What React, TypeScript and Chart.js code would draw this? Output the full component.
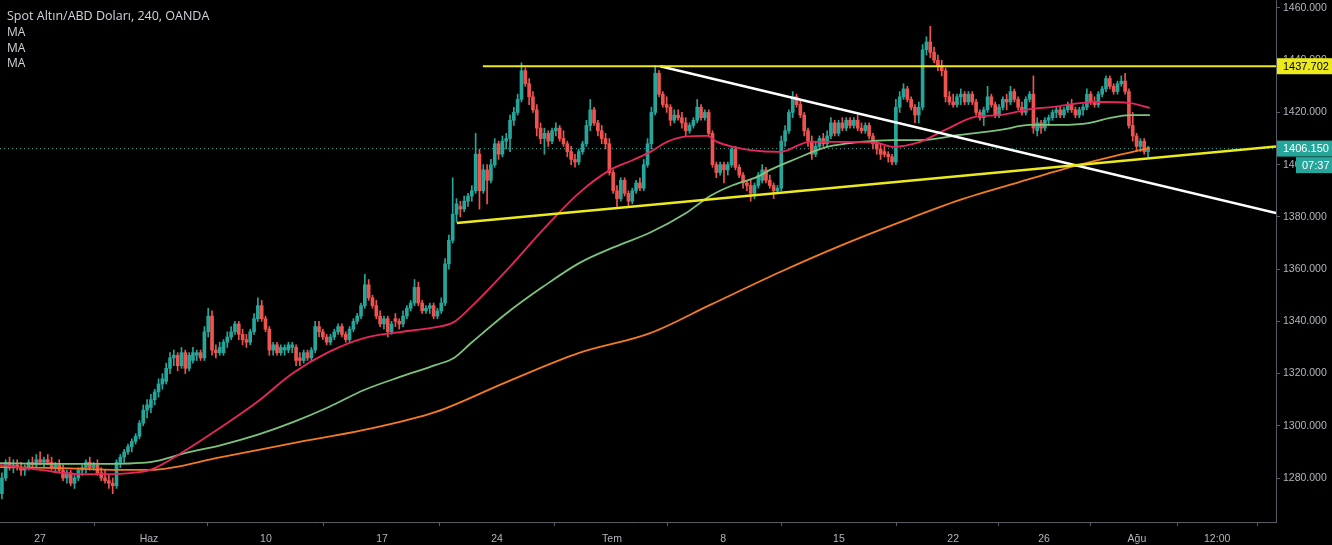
import React, { useEffect, useRef } from "react";
import { Chart, registerables } from "chart.js";

Chart.register(...registerables);

// ---- OHLC candles (4H bars, index 0 = first visible bar) ----
const OPEN = [
  1274,1280,1286,1284,1285,1284,1283,1284,1286,1285,
  1287,1286,1287,1286,1284,1285,1283,1280,1282,1278,
  1280,1283,1284,1286,1284,1285,1282,1280,1279,1278,
  1277,1286,1288,1290,1292,1294,1296,1301,1306,1307,
  1310,1313,1316,1317,1322,1326,1327,1323,1328,1322,
  1325,1327,1328,1326,1336,1342,1329,1328,1328,1332,
  1334,1336,1339,1335,1333,1332,1336,1341,1346,1341,
  1337,1329,1331,1328,1329,1329,1330,1330,1326,1325,
  1328,1326,1329,1338,1336,1334,1332,1334,1336,1338,
  1335,1333,1337,1340,1342,1346,1354,1349,1346,1342,
  1339,1341,1336,1341,1340,1339,1342,1345,1347,1353,
  1347,1344,1345,1346,1342,1344,1347,1362,1371,1381,
  1384,1383,1386,1388,1390,1404,1390,1398,1394,1400,
  1408,1404,1409,1410,1417,1420,1425,1436,1431,1426,
  1421,1414,1410,1412,1409,1413,1414,1410,1408,1405,
  1402,1401,1405,1408,1415,1421,1416,1413,1410,1408,
  1397,1390,1387,1394,1389,1386,1390,1393,1391,1400,
  1408,1420,1435,1427,1423,1422,1417,1419,1418,1416,
  1413,1415,1417,1422,1418,1420,1412,1400,1397,1400,
  1398,1400,1406,1399,1396,1393,1392,1389,1392,1394,
  1398,1394,1392,1390,1391,1409,1413,1420,1426,1423,
  1419,1413,1409,1404,1407,1410,1408,1411,1416,1412,
  1416,1414,1417,1415,1417,1414,1413,1415,1411,1408,
  1406,1405,1404,1403,1401,1422,1426,1429,1425,1422,
  1419,1422,1444,1447,1443,1440,1438,1436,1426,1424,
  1423,1426,1427,1424,1427,1424,1420,1418,1421,1426,
  1423,1419,1422,1425,1424,1428,1425,1422,1420,1425,
  1427,1413,1416,1414,1417,1418,1420,1421,1419,1421,
  1423,1421,1419,1421,1422,1427,1424,1423,1427,1429,
  1433,1430,1428,1431,1432,1428,1415,1411,1407,1409,
  1405,
];
const HIGH = [
  1282,1287,1288,1287,1287,1286,1285,1287,1288,1289,
  1290,1288,1289,1288,1286,1287,1285,1283,1283,1281,
  1284,1285,1287,1288,1286,1287,1284,1283,1281,1280,
  1287,1289,1291,1293,1295,1297,1302,1308,1310,1312,
  1314,1318,1320,1324,1328,1329,1328,1330,1329,1328,
  1330,1329,1329,1338,1345,1344,1331,1332,1333,1336,
  1338,1340,1340,1337,1335,1337,1343,1349,1348,1342,
  1338,1332,1332,1331,1331,1332,1332,1331,1328,1329,
  1329,1330,1340,1340,1337,1335,1335,1337,1339,1339,
  1336,1338,1341,1343,1347,1358,1356,1350,1348,1344,
  1342,1342,1340,1343,1341,1344,1346,1348,1356,1355,
  1348,1346,1347,1347,1345,1349,1364,1373,1395,1387,
  1386,1388,1389,1392,1412,1406,1400,1400,1402,1410,
  1409,1411,1412,1419,1422,1427,1439,1437,1433,1428,
  1423,1416,1414,1413,1414,1416,1415,1413,1409,1407,
  1404,1406,1409,1417,1425,1422,1417,1415,1412,1410,
  1398,1392,1395,1395,1390,1391,1394,1395,1402,1410,
  1422,1438,1436,1428,1426,1423,1421,1421,1420,1418,
  1416,1418,1425,1423,1421,1421,1413,1401,1401,1401,
  1401,1407,1407,1400,1397,1394,1394,1393,1397,1400,
  1399,1396,1393,1392,1411,1415,1421,1428,1427,1425,
  1420,1414,1411,1409,1411,1412,1413,1418,1417,1417,
  1418,1418,1418,1418,1419,1416,1416,1416,1412,1409,
  1408,1407,1405,1404,1425,1428,1431,1430,1426,1423,
  1424,1446,1449,1453,1445,1442,1440,1437,1428,1427,
  1427,1429,1428,1428,1428,1425,1421,1422,1430,1427,
  1424,1423,1426,1427,1430,1429,1426,1424,1426,1428,
  1434,1418,1417,1418,1419,1421,1422,1422,1422,1424,
  1425,1422,1422,1423,1429,1428,1426,1428,1430,1434,
  1434,1431,1432,1434,1435,1429,1420,1412,1410,1410,
  1407,
];
const LOW = [
  1272,1279,1283,1282,1283,1281,1281,1283,1284,1284,
  1285,1284,1285,1283,1282,1282,1279,1278,1277,1276,
  1279,1281,1282,1283,1283,1281,1279,1278,1276,1274,
  1276,1284,1286,1289,1290,1293,1295,1300,1303,1305,
  1308,1311,1314,1316,1320,1323,1321,1322,1320,1321,
  1324,1325,1325,1325,1334,1327,1326,1327,1327,1330,
  1333,1335,1333,1331,1330,1331,1335,1340,1340,1336,
  1327,1327,1327,1327,1327,1328,1328,1323,1323,1324,
  1325,1325,1328,1334,1333,1331,1331,1333,1335,1334,
  1332,1332,1336,1339,1341,1345,1348,1345,1341,1338,
  1337,1334,1335,1338,1337,1338,1341,1344,1346,1346,
  1343,1343,1343,1341,1341,1343,1346,1360,1370,1378,
  1380,1382,1384,1386,1389,1383,1389,1385,1393,1399,
  1402,1403,1406,1405,1415,1419,1424,1430,1423,1420,
  1411,1408,1404,1407,1408,1411,1409,1407,1403,1400,
  1399,1400,1404,1407,1413,1415,1411,1408,1406,1396,
  1389,1384,1386,1388,1384,1385,1389,1390,1390,1399,
  1406,1419,1426,1422,1420,1415,1416,1417,1414,1411,
  1412,1414,1416,1417,1417,1411,1399,1395,1396,1393,
  1396,1399,1398,1395,1391,1390,1386,1387,1391,1393,
  1393,1391,1387,1389,1390,1407,1412,1418,1422,1418,
  1411,1407,1402,1403,1406,1407,1407,1410,1411,1411,
  1413,1413,1414,1414,1413,1412,1412,1410,1406,1404,
  1402,1403,1401,1400,1400,1420,1425,1424,1421,1416,
  1416,1421,1442,1441,1439,1436,1434,1424,1423,1422,
  1422,1423,1423,1423,1423,1419,1417,1415,1420,1422,
  1418,1418,1421,1421,1423,1424,1421,1419,1419,1424,
  1412,1411,1412,1413,1415,1417,1418,1418,1418,1420,
  1420,1418,1418,1419,1421,1423,1422,1422,1426,1428,
  1429,1427,1427,1430,1427,1414,1409,1405,1405,1404,
  1403,
];
const CLOSE = [
  1280,1286,1284,1285,1284,1283,1284,1286,1285,1287,
  1286,1287,1286,1284,1285,1283,1280,1282,1278,1280,
  1283,1284,1286,1284,1285,1282,1280,1279,1278,1277,
  1286,1288,1290,1292,1294,1296,1301,1306,1308,1310,
  1313,1316,1318,1322,1326,1327,1323,1328,1322,1327,
  1328,1328,1326,1336,1342,1329,1328,1330,1332,1334,
  1336,1339,1335,1333,1332,1336,1341,1346,1341,1337,
  1329,1331,1328,1330,1330,1331,1331,1325,1325,1328,
  1326,1329,1338,1336,1334,1332,1334,1336,1338,1335,
  1333,1337,1340,1342,1346,1354,1349,1346,1342,1339,
  1341,1336,1339,1340,1339,1342,1345,1347,1353,1347,
  1344,1345,1346,1342,1344,1347,1362,1371,1381,1385,
  1383,1386,1388,1390,1404,1390,1398,1394,1400,1408,
  1404,1409,1410,1417,1420,1425,1436,1431,1426,1421,
  1414,1410,1412,1409,1413,1414,1410,1408,1405,1402,
  1401,1405,1408,1415,1421,1416,1413,1410,1408,1397,
  1390,1387,1394,1389,1386,1390,1393,1391,1400,1408,
  1420,1435,1427,1423,1422,1417,1419,1418,1416,1413,
  1415,1417,1422,1418,1420,1412,1400,1397,1400,1398,
  1400,1406,1399,1396,1393,1392,1389,1392,1396,1398,
  1394,1392,1390,1391,1409,1413,1420,1426,1423,1419,
  1413,1409,1404,1407,1410,1408,1411,1416,1412,1416,
  1414,1417,1415,1417,1414,1413,1415,1411,1408,1406,
  1404,1404,1403,1401,1422,1426,1429,1425,1422,1419,
  1422,1444,1447,1443,1440,1438,1436,1426,1424,1423,
  1426,1427,1424,1427,1424,1420,1418,1421,1426,1423,
  1419,1422,1425,1424,1428,1425,1422,1420,1425,1427,
  1414,1416,1414,1417,1418,1420,1421,1419,1421,1423,
  1421,1419,1421,1422,1427,1424,1423,1427,1429,1433,
  1430,1428,1431,1432,1428,1415,1411,1407,1409,1405,
  1406.15,
];

// ---- moving averages as [bar index, price] ----
const MA_RED = [
  [-0.5,1285.0],[10,1283.1],[20.4,1281.5],[28.3,1281.5],[33.5,1281.9],[38.8,1283.1],
  [48.2,1290.7],[57.4,1299.5],[66.8,1309.1],[76.2,1320.2],[85.6,1328.3],[94.8,1333.6],
  [104.2,1335.9],[113.6,1337.8],[118.3,1339.7],[122.8,1345.5],[132.2,1359.7],[141.6,1375.0],
  [151.1,1389.2],[159.2,1398.0],[165.2,1401.8],[169.7,1404.9],[174.1,1408.7],[178.3,1410.6],
  [184.6,1411.0],[187.2,1408.7],[191.4,1406.8],[195.8,1405.6],[203.7,1404.9],[211.5,1408.7],
  [220.2,1408.7],[229.1,1408.3],[233.3,1406.8],[240.3,1408.7],[246.9,1413.3],[254.7,1418.3],
  [261.3,1419.0],[269.1,1421.3],[275.2,1422.1],[282.2,1423.6],[287.5,1424.0],[295.3,1423.6],
  [300.5,1421.7],
];
const MA_GREEN = [
  [-0.5,1285.7],[12.6,1285.4],[25.7,1285.4],[38.8,1286.1],[48.2,1289.6],[57.4,1292.6],
  [66.8,1296.5],[76.2,1301.4],[85.6,1307.2],[94.8,1313.7],[104.2,1318.7],[113.6,1323.3],
  [118.3,1326.0],[122.8,1331.7],[132.2,1343.2],[141.6,1353.2],[151.1,1362.3],[160.2,1368.4],
  [169.7,1374.0],[179.1,1381.5],[185.4,1388.0],[191.4,1392.2],[197.7,1395.3],[201.1,1398.0],
  [207.1,1401.8],[216.0,1406.8],[224.6,1408.7],[233.3,1409.4],[240.3,1409.4],[250.8,1411.4],
  [261.3,1413.3],[269.1,1415.2],[277.0,1415.2],[284.8,1416.0],[290.1,1417.9],[295.3,1419.0],
  [300.5,1419.0],
];
const MA_ORANGE = [
  [-0.5,1284.2],[15.2,1283.8],[30.9,1283.1],[38.8,1283.1],[57.4,1288.0],[76.2,1293.4],
  [94.8,1298.4],[113.6,1305.3],[132.2,1316.8],[151.1,1327.9],[169.7,1335.5],[185.4,1346.3],
  [203.7,1358.9],[219.4,1368.9],[235.1,1378.0],[250.8,1386.5],[266.5,1393.4],[280.9,1399.5],
  [290.1,1402.9],[300.5,1406.4],
];

// ---- drawn trend lines [bar index, price] ----
const RESISTANCE_LINE = [[125.9,1437.702],[333.5,1437.702]];
const SUPPORT_LINE = [[119.1,1377.7],[333.5,1407.0]];
const DOWN_LINE = [[172.3,1437.7],[333.5,1381.5]];

// ---- axes ----
const X_TICK_POS = [10, 38.5, 69.1, 99.5, 129.6, 159.7, 188.8, 219.1, 249.0, 272.8, 297.1, 318.1];
const X_TICK_LABELS = ["27", "Haz", "10", "17", "24", "Tem", "8", "15", "22", "26", "Ağu", "12:00"];
const Y_TICKS = [1280, 1300, 1320, 1340, 1360, 1380, 1400, 1420, 1440, 1460];
const X_MIN = -0.5;
const X_MAX = 333.5;
const Y_MIN = 1263.15;
const Y_MAX = 1463.06;

const RESISTANCE_LABEL = 1437.702;
const LAST_PRICE = 1406.15;
const COUNTDOWN = "07:37";
const TITLE = "Spot Altın/ABD Doları, 240, OANDA";
const MA_LABELS = ["MA", "MA", "MA"];

const UP = "#26a69a";
const DOWN = "#ef5350";
const YELLOW = "#ecea1c";
const AXIS_FONT = "Liberation Sans";

const toXY = (pts: number[][]) => pts.map(([x, y]) => ({ x, y }));

export default function App() {
  const ref = useRef<HTMLCanvasElement | null>(null);

  useEffect(() => {
    if (!ref.current) return;
    const n = Math.min(OPEN.length, HIGH.length, LOW.length, CLOSE.length);
    const idx = Array.from({ length: n }, (_, i) => i);
    const colors = idx.map((i) => (CLOSE[i] >= OPEN[i] ? UP : DOWN));

    const overlay = {
      id: "overlay",
      afterDraw(chart: any) {
        const ctx = chart.ctx;
        const y = chart.scales.y;
        const area = chart.chartArea;
        const W = chart.width;
        ctx.save();
        // title + MA legend
        ctx.fillStyle = "#d1d4dc";
        ctx.textBaseline = "alphabetic";
        ctx.textAlign = "left";
        ctx.font = '12.5px "Open Sans"';
        ctx.fillText(TITLE, 7, 20);
        ctx.font = '12px "Open Sans"';
        MA_LABELS.forEach((t, k) => ctx.fillText(t, 7, 36 + k * 15.7));

        const box = (bg: string, fg: string, text: string, x0: number, yc: number) => {
          ctx.fillStyle = bg;
          ctx.fillRect(x0, yc - 8, W - x0, 16);
          ctx.fillStyle = fg;
          ctx.font = `11px ${AXIS_FONT}`;
          ctx.textBaseline = "middle";
          ctx.fillText(text, x0 + 6, yc + 0.5);
        };
        const yr = y.getPixelForValue(RESISTANCE_LABEL);
        box(YELLOW, "#000", RESISTANCE_LABEL.toFixed(3), area.right + 1, yr);
        const yl = y.getPixelForValue(LAST_PRICE);
        box(UP, "#fff", LAST_PRICE.toFixed(3), area.right + 1, yl);
        box(UP, "#fff", COUNTDOWN, area.right + 20, yl + 16.5);
        ctx.restore();
      },
    };

    const chart = new Chart(ref.current, {
      type: "bar",
      data: {
        datasets: [
          { type: "line", data: toXY(RESISTANCE_LINE), borderColor: YELLOW, borderWidth: 2, pointRadius: 0, order: 0 },
          { type: "line", data: toXY(SUPPORT_LINE), borderColor: YELLOW, borderWidth: 2.5, pointRadius: 0, order: 0 },
          { type: "line", data: toXY(DOWN_LINE), borderColor: "#ffffff", borderWidth: 2.5, pointRadius: 0, order: 0 },
          {
            type: "line", data: toXY(MA_RED), borderColor: "#e8265e", borderWidth: 1.8,
            pointRadius: 0, cubicInterpolationMode: "monotone", order: 1,
          },
          {
            type: "line", data: toXY(MA_GREEN), borderColor: "#7cc47c", borderWidth: 1.8,
            pointRadius: 0, cubicInterpolationMode: "monotone", order: 2,
          },
          {
            type: "line", data: toXY(MA_ORANGE), borderColor: "#f47b20", borderWidth: 1.8,
            pointRadius: 0, cubicInterpolationMode: "monotone", order: 3,
          },
          {
            type: "line",
            data: [{ x: X_MIN, y: LAST_PRICE }, { x: X_MAX, y: LAST_PRICE }],
            borderColor: UP, borderWidth: 1, borderDash: [1, 3], pointRadius: 0, order: 9,
          },
          {
            type: "bar",
            data: idx.map((i) => ({ x: i, y: [LOW[i], HIGH[i]] })) as any,
            backgroundColor: colors, barThickness: 1, grouped: false, borderWidth: 0, order: 6,
          },
          {
            type: "bar",
            data: idx.map((i) => ({ x: i, y: [OPEN[i], CLOSE[i]] })) as any,
            backgroundColor: colors, barThickness: 3, minBarLength: 1, grouped: false, borderWidth: 0, order: 5,
          },
        ] as any,
      },
      options: {
        responsive: false,
        maintainAspectRatio: false,
        devicePixelRatio: 1,
        animation: false,
        events: [],
        layout: { padding: 0 },
        plugins: { legend: { display: false }, tooltip: { enabled: false } },
        scales: {
          x: {
            type: "linear",
            min: X_MIN,
            max: X_MAX,
            offset: false,
            grid: { display: true, drawOnChartArea: false, drawTicks: true, tickLength: 4, color: "#5a5d66" },
            border: { display: true, color: "#5a5d66" },
            ticks: {
              color: "#b2b5be",
              font: { size: 10.5, family: AXIS_FONT },
              autoSkip: false,
              maxRotation: 0,
              padding: 7,
              callback: (_v: any, i: number) => X_TICK_LABELS[i] ?? "",
            },
            afterBuildTicks: (s: any) => {
              s.ticks = X_TICK_POS.map((v) => ({ value: v }));
            },
            afterFit: (s: any) => {
              s.height = 23;
              s.paddingLeft = 0;
              s.paddingRight = 0;
            },
          },
          y: {
            type: "linear",
            position: "right",
            min: Y_MIN,
            max: Y_MAX,
            grid: { display: true, drawOnChartArea: false, drawTicks: true, tickLength: 4, color: "#5a5d66" },
            border: { display: true, color: "#5a5d66" },
            ticks: {
              color: "#b2b5be",
              font: { size: 10.5, family: AXIS_FONT },
              padding: 3,
              callback: (v: any) => Number(v).toFixed(3),
            },
            afterBuildTicks: (s: any) => {
              s.ticks = Y_TICKS.map((v) => ({ value: v }));
            },
            afterFit: (s: any) => {
              s.width = 56;
              s.paddingTop = 0;
              s.paddingBottom = 0;
            },
          },
        },
      } as any,
      plugins: [overlay],
    });
    return () => chart.destroy();
  }, []);

  return (
    <div style={{ position: "fixed", left: 0, top: 0, width: 1332, height: 545, background: "#000" }}>
      <canvas ref={ref} width={1332} height={545} style={{ display: "block", background: "#000" }} />
    </div>
  );
}
